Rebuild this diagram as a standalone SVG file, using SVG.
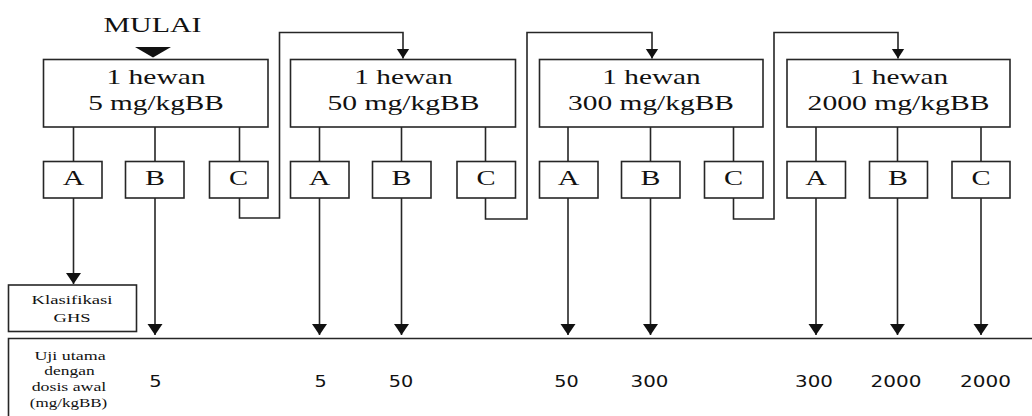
<svg xmlns="http://www.w3.org/2000/svg" width="1032" height="416" viewBox="0 0 1032 416">
  <style>
    .box { fill: #fff; stroke: #262626; stroke-width: 1.6; }
    .ln { fill: none; stroke: #262626; stroke-width: 1.6; }
    .ser { font-family: "Liberation Serif", "Times New Roman", serif; fill: #111; text-anchor: middle; }
    .big { font-size: 22px; }
    .sm { font-size: 13px; }
    .num { font-family: "DejaVu Sans", Verdana, sans-serif; font-size: 16px; fill: #111; text-anchor: middle; }
  </style>
  <defs>
    <marker id="arrowBig" markerUnits="userSpaceOnUse" markerWidth="12" markerHeight="16" refX="11" refY="7.5" orient="auto">
      <path d="M0,0 L11,7.5 L0,15 z" fill="#111"/>
    </marker>
    <marker id="arrowSmall" markerUnits="userSpaceOnUse" markerWidth="11" markerHeight="14" refX="10" refY="6.5" orient="auto">
      <path d="M0,0 L10,6.5 L0,13 z" fill="#111"/>
    </marker>
  </defs>

  <rect width="1032" height="416" fill="#fff"/>

  <!-- start marker -->
  <g id="start">
    <text class="ser big" transform="translate(152.5 31.5) scale(1.36 1)">MULAI</text>
    <path d="M135,47 L171,47 L153,57.5 z" fill="#111"/>
  </g>

  <!-- connectors -->
  <g id="connectors">
    <!-- dose boxes to outcome boxes -->
    <path class="ln" d="M73.5,127 V161 M155,127 V161 M239.5,127 V161"/>
    <path class="ln" d="M319.5,127 V161 M401.5,127 V161 M485.5,127 V161"/>
    <path class="ln" d="M568,127 V161 M650.5,127 V161 M733.5,127 V161"/>
    <path class="ln" d="M816,127 V161 M897.5,127 V161 M981,127 V161"/>
    <!-- outcome C loops to next dose -->
    <path class="ln" d="M239.5,198 V218 H279.5 V32.5 H403 V58.5" marker-end="url(#arrowSmall)"/>
    <path class="ln" d="M485.5,198 V219 H527 V32.5 H652 V58.5" marker-end="url(#arrowSmall)"/>
    <path class="ln" d="M733.5,198 V219 H774 V32.5 H898 V58.5" marker-end="url(#arrowSmall)"/>
    <!-- outcomes to results -->
    <path class="ln" d="M73.5,198 V284" marker-end="url(#arrowBig)"/>
    <path class="ln" d="M155,198 V335" marker-end="url(#arrowBig)"/>
    <path class="ln" d="M319.5,198 V335" marker-end="url(#arrowBig)"/>
    <path class="ln" d="M401.5,198 V335" marker-end="url(#arrowBig)"/>
    <path class="ln" d="M568,198 V335" marker-end="url(#arrowBig)"/>
    <path class="ln" d="M650.5,198 V335" marker-end="url(#arrowBig)"/>
    <path class="ln" d="M816,198 V335" marker-end="url(#arrowBig)"/>
    <path class="ln" d="M897.5,198 V335" marker-end="url(#arrowBig)"/>
    <path class="ln" d="M981,198 V335" marker-end="url(#arrowBig)"/>
  </g>

  <!-- dose step 1 -->
  <g id="dose5">
    <rect class="box" x="43.5" y="59.5" width="224.5" height="67.5"/>
    <text class="ser big" transform="translate(156 83.5) scale(1.34 1)">1 hewan</text>
    <text class="ser big" transform="translate(156 109.5) scale(1.33 1)">5 mg/kgBB</text>
  </g>
  <g id="dose5-A">
    <rect class="box" x="43.5" y="161.5" width="58.5" height="36.5"/>
    <text class="ser big" transform="translate(73.5 185) scale(1.36 1)">A</text>
  </g>
  <g id="dose5-B">
    <rect class="box" x="125.5" y="161.5" width="58.5" height="36.5"/>
    <text class="ser big" transform="translate(155 185) scale(1.36 1)">B</text>
  </g>
  <g id="dose5-C">
    <rect class="box" x="209.5" y="161.5" width="58.5" height="36.5"/>
    <text class="ser big" transform="translate(238.5 185) scale(1.3 1)">C</text>
  </g>

  <!-- dose step 2 -->
  <g id="dose50">
    <rect class="box" x="290.5" y="59.5" width="225" height="67.5"/>
    <text class="ser big" transform="translate(403.5 83.5) scale(1.33 1)">1 hewan</text>
    <text class="ser big" transform="translate(403.5 109.5) scale(1.344 1)">50 mg/kgBB</text>
  </g>
  <g id="dose50-A">
    <rect class="box" x="290.5" y="161.5" width="58.5" height="36.5"/>
    <text class="ser big" transform="translate(319.5 185) scale(1.36 1)">A</text>
  </g>
  <g id="dose50-B">
    <rect class="box" x="372.5" y="161.5" width="58.5" height="36.5"/>
    <text class="ser big" transform="translate(401.5 185) scale(1.36 1)">B</text>
  </g>
  <g id="dose50-C">
    <rect class="box" x="457" y="161.5" width="58.5" height="36.5"/>
    <text class="ser big" transform="translate(486 185) scale(1.3 1)">C</text>
  </g>

  <!-- dose step 3 -->
  <g id="dose300">
    <rect class="box" x="539.5" y="59.5" width="223.5" height="67.5"/>
    <text class="ser big" transform="translate(651.5 83.5) scale(1.33 1)">1 hewan</text>
    <text class="ser big" transform="translate(651 109.5) scale(1.338 1)">300 mg/kgBB</text>
  </g>
  <g id="dose300-A">
    <rect class="box" x="539.5" y="161.5" width="58.5" height="36.5"/>
    <text class="ser big" transform="translate(568.5 185) scale(1.36 1)">A</text>
  </g>
  <g id="dose300-B">
    <rect class="box" x="621.5" y="161.5" width="58.5" height="36.5"/>
    <text class="ser big" transform="translate(650.5 185) scale(1.36 1)">B</text>
  </g>
  <g id="dose300-C">
    <rect class="box" x="704.5" y="161.5" width="58.5" height="36.5"/>
    <text class="ser big" transform="translate(733.5 185) scale(1.3 1)">C</text>
  </g>

  <!-- dose step 4 -->
  <g id="dose2000">
    <rect class="box" x="787" y="59.5" width="223" height="67.5"/>
    <text class="ser big" transform="translate(899 83.5) scale(1.33 1)">1 hewan</text>
    <text class="ser big" transform="translate(898.5 109.5) scale(1.347 1)">2000 mg/kgBB</text>
  </g>
  <g id="dose2000-A">
    <rect class="box" x="787" y="161.5" width="58.5" height="36.5"/>
    <text class="ser big" transform="translate(816 185) scale(1.36 1)">A</text>
  </g>
  <g id="dose2000-B">
    <rect class="box" x="869.5" y="161.5" width="58" height="36.5"/>
    <text class="ser big" transform="translate(898 185) scale(1.36 1)">B</text>
  </g>
  <g id="dose2000-C">
    <rect class="box" x="952" y="161.5" width="58" height="36.5"/>
    <text class="ser big" transform="translate(981 185) scale(1.3 1)">C</text>
  </g>

  <!-- classification result -->
  <g id="ghs">
    <rect class="box" x="8.5" y="285" width="128" height="46.5"/>
    <text class="ser sm" transform="translate(72 304) scale(1.44 1)">Klasifikasi</text>
    <text class="ser sm" transform="translate(72 321.5) scale(1.42 1)">GHS</text>
  </g>

  <!-- main test starting doses -->
  <g id="main-test">
    <path class="ln" d="M8.5,420 V338.5 H1040"/>
    <text class="ser sm" transform="translate(70 360) scale(1.38 1)">Uji utama</text>
    <text class="ser sm" transform="translate(69.5 375) scale(1.34 1)">dengan</text>
    <text class="ser sm" transform="translate(69 390.5) scale(1.37 1)">dosis awal</text>
    <text class="ser sm" transform="translate(68.5 406.5) scale(1.31 1)">(mg/kgBB)</text>
    <text class="num" transform="translate(155.5 387) scale(1.22 1)">5</text>
    <text class="num" transform="translate(320.5 387) scale(1.2 1)">5</text>
    <text class="num" transform="translate(401 387) scale(1.2 1)">50</text>
    <text class="num" transform="translate(566.5 387) scale(1.2 1)">50</text>
    <text class="num" transform="translate(649.5 387) scale(1.24 1)">300</text>
    <text class="num" transform="translate(814 387) scale(1.24 1)">300</text>
    <text class="num" transform="translate(896 387) scale(1.25 1)">2000</text>
    <text class="num" transform="translate(985.5 387) scale(1.25 1)">2000</text>
  </g>
</svg>
